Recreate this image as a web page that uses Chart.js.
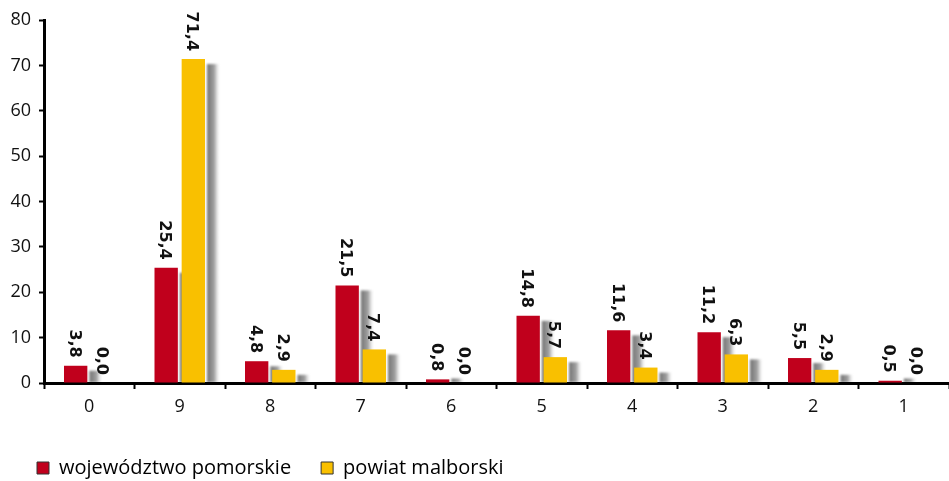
<!DOCTYPE html>
<html>
<head>
<meta charset="utf-8">
<script src="https://cdn.jsdelivr.net/npm/chart.js@4"></script>
<style>
    html, body { margin: 0; padding: 0; background: #fff; }
    #wrap { width: 949px; height: 481px; }
</style>
</head>
<body>
<div id="wrap"><canvas id="barCtx"></canvas></div>
<script>
const categories = ['0', '9', '8', '7', '6', '5', '4', '3', '2', '1'];
const pomorskie = [3.8, 25.4, 4.8, 21.5, 0.8, 14.8, 11.6, 11.2, 5.5, 0.5];
const malborski = [0.0, 71.4, 2.9, 7.4, 0.0, 5.7, 3.4, 6.3, 2.9, 0.0];
const yTicks = [0, 10, 20, 30, 40, 50, 60, 70, 80];

const RED = '#c0001c';
const YELLOW = '#f9c000';

const barCtx = document.getElementById('barCtx');

// soft gray strip to the right of each bar (fake 3d shadow)
const shadowPlugin = {
    id: 'barShadow',
    beforeDatasetsDraw(chart) {
        const ctx = chart.ctx;
        const area = chart.chartArea;
        ctx.save();
        ctx.beginPath();
        ctx.rect(area.left, area.top - 40, area.right - area.left, area.bottom - area.top + 39);
        ctx.clip();
        ctx.filter = 'blur(1px)';
        chart.data.datasets.forEach((ds, i) => {
            chart.getDatasetMeta(i).data.forEach((bar, j) => {
                if (!ds.data[j]) return;
                const x0 = bar.x + bar.width / 2 + 2;
                const top = Math.min(bar.y + 5, bar.base - 4);
                const g = ctx.createLinearGradient(x0, 0, x0 + 12, 0);
                g.addColorStop(0, 'rgba(115, 115, 115, 1)');
                g.addColorStop(0.6, 'rgba(150, 150, 150, 0.9)');
                g.addColorStop(1, 'rgba(225, 225, 225, 0.2)');
                ctx.fillStyle = g;
                ctx.fillRect(x0, top, 12, bar.base - top);
            });
        });
        ctx.restore();
    }
};

// rotated value labels above each bar
const valueLabels = {
    id: 'valueLabels',
    afterDatasetsDraw(chart) {
        const ctx = chart.ctx;
        ctx.save();
        ctx.font = 'bold 16px "DejaVu Sans"';
        ctx.fillStyle = '#111';
        ctx.textAlign = 'right';
        ctx.textBaseline = 'middle';
        chart.data.datasets.forEach((ds, i) => {
            chart.getDatasetMeta(i).data.forEach((bar, j) => {
                ctx.save();
                ctx.translate(bar.x - 2, bar.y - 8);
                ctx.rotate(Math.PI / 2);
                ctx.fillText(ds.data[j].toFixed(1).replace('.', ','), 0, 0);
                ctx.restore();
            });
        });
        ctx.restore();
    }
};

new Chart(barCtx, {
    type: 'bar',
    data: {
        labels: categories,
        datasets: [{
            label: 'województwo pomorskie',
            data: pomorskie,
            backgroundColor: RED,
            borderWidth: 0
        },
        {
            label: 'powiat malborski',
            data: malborski,
            backgroundColor: YELLOW,
            borderWidth: 0
        }]
    },
    options: {
        responsive: true,
        maintainAspectRatio: false,
        animation: false,
        categoryPercentage: 0.6,
        barPercentage: 0.86,
        layout: { padding: { top: 20, right: 0, left: 7, bottom: 0 } },
        plugins: {
            tooltip: { enabled: false },
            legend: {
                position: 'bottom',
                align: 'start',
                maxHeight: 53,
                labels: {
                    boxWidth: 12,
                    boxHeight: 12,
                    padding: 30,
                    color: '#111',
                    font: { family: 'Open Sans', size: 20 },
                    generateLabels(chart) {
                        return chart.data.datasets.map((ds, i) => ({
                            text: ds.label,
                            fillStyle: ds.backgroundColor,
                            strokeStyle: '#333',
                            lineWidth: 1,
                            datasetIndex: i
                        }));
                    }
                }
            }
        },
        scales: {
            x: {
                offset: true,
                afterFit(scale) { scale.height = 45; },
                grid: {
                    offset: true,
                    drawOnChartArea: false,
                    drawTicks: true,
                    tickLength: 6,
                    tickWidth: 2,
                    tickColor: '#000'
                },
                border: { display: true, color: '#000', width: 3 },
                ticks: {
                    color: '#111',
                    padding: 7,
                    font: { family: 'Open Sans', size: 18 }
                }
            },
            y: {
                min: 0,
                max: 80,
                afterFit(scale) { scale.width = 37; },
                afterBuildTicks(scale) {
                    scale.ticks = yTicks.map(v => ({ value: v }));
                },
                grid: {
                    drawOnChartArea: false,
                    drawTicks: true,
                    tickLength: 5,
                    tickWidth: 2,
                    tickColor: '#000'
                },
                border: { display: true, color: '#000', width: 3 },
                ticks: {
                    color: '#111',
                    padding: 8,
                    font: { family: 'Open Sans', size: 18 }
                }
            }
        }
    },
    plugins: [shadowPlugin, valueLabels]
});
</script>
</body>
</html>
